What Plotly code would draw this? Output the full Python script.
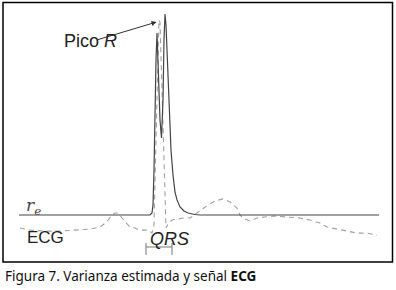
import plotly.graph_objects as go

# Time axis (samples) and amplitudes (normalised to the r_e peak)
re_t = [0, 131, 133, 134, 135, 136, 137, 138, 139, 140, 141, 142.5, 143.5, 144, 145, 146,
        147, 148, 149, 150, 151, 152, 154, 156, 158, 161, 165, 169, 176, 181, 360]
re_a = [0, 0, 0.010, 0.050, 0.224, 0.572, 0.771, 0.905, 0.746, 0.572, 0.473, 0.383, 0.473,
        0.572, 0.871, 1.0, 0.945, 0.846, 0.697, 0.572, 0.423, 0.323, 0.199, 0.114, 0.075,
        0.040, 0.020, 0.010, 0.0025, 0, 0]

ecg_t = [1, 11, 26, 41, 56, 71, 81, 85, 89, 93, 96, 99, 103, 107, 111, 116, 121, 128, 131,
         133, 135, 137, 139, 140, 141, 143, 145, 146, 147, 149, 153, 159, 165, 171, 179, 189,
         196, 204, 211, 218, 221, 224, 231, 238, 246, 256, 268, 281, 291, 301, 308, 318, 328,
         338, 348, 358]
ecg_a = [-0.065, -0.075, -0.080, -0.080, -0.075, -0.070, -0.060, -0.045, -0.025, 0, 0.010,
         0.010, -0.015, -0.040, -0.060, -0.065, -0.075, -0.075, -0.080, -0.090, -0.050, 0.373,
         0.821, 0.970, 0.960, 0.622, 0.224, 0, -0.065, -0.045, -0.025, -0.020, -0.015, -0.015,
         0.015, 0.050, 0.070, 0.080, 0.065, 0.035, 0, -0.015, -0.030, -0.015, -0.010, -0.005,
         -0.010, -0.015, -0.025, -0.040, -0.060, -0.070, -0.080, -0.090, -0.090, -0.100]

qrs_on, qrs_off = 127, 153
caption = "Figura 7. Varianza estimada y señal <b>ECG</b>"

W, H = 396, 290
X_RANGE = [-19, 377]
Y_RANGE = [-0.3731, 1.0697]


def px(x):
    return x / W


def py(y):
    return 1 - y / H


fig = go.Figure()
fig.add_trace(go.Scatter(x=ecg_t, y=ecg_a, mode="lines",
                         line=dict(color="#a0a0a0", width=1.1, dash="5px,4px"),
                         hoverinfo="skip"))
fig.add_trace(go.Scatter(x=re_t, y=re_a, mode="lines",
                         line=dict(color="#444444", width=1.2),
                         hoverinfo="skip"))

# frame
fig.add_shape(type="rect", xref="paper", yref="paper",
              x0=px(3), x1=px(392.5), y0=py(262), y1=py(2.5),
              line=dict(color="black", width=1.5))

# QRS bracket
yb = -0.159
fig.add_shape(type="line", xref="x", yref="y", x0=qrs_on, x1=qrs_off, y0=yb, y1=yb,
              line=dict(color="#777", width=1))
for xq in (qrs_on, qrs_off):
    fig.add_shape(type="line", xref="x", yref="y", x0=xq, x1=xq, y0=yb + 0.02, y1=yb - 0.04,
                  line=dict(color="#777", width=1))

peak_i = ecg_a.index(max(ecg_a))
fig.add_annotation(x=ecg_t[peak_i] - 2.5, y=ecg_a[peak_i] - 0.01, xref="x", yref="y",
                   text="", showarrow=True, ax=-60, ay=18,
                   arrowhead=2, arrowsize=1, arrowwidth=1, arrowcolor="#333")

sans = "Liberation Sans, Arial, sans-serif"
fig.add_annotation(x=px(62), y=py(41), xref="paper", yref="paper", text="Pico <i>R</i>",
                   showarrow=False, xanchor="left", yanchor="middle",
                   font=dict(family=sans, size=18, color="#222"))
fig.add_annotation(x=px(25), y=py(237), xref="paper", yref="paper", text="ECG",
                   showarrow=False, xanchor="left", yanchor="middle",
                   font=dict(family=sans, size=17, color="#222"))
fig.add_annotation(x=px(148), y=py(239), xref="paper", yref="paper", text="<i>QRS</i>",
                   showarrow=False, xanchor="left", yanchor="middle",
                   font=dict(family=sans, size=18, color="#222"))
fig.add_annotation(x=px(24), y=py(206), xref="paper", yref="paper",
                   text="<i>r</i><sub><i>e</i></sub>",
                   showarrow=False, xanchor="left", yanchor="middle",
                   font=dict(family="DejaVu Serif, serif", size=17, color="#444"))
fig.add_annotation(x=px(3), y=py(276), xref="paper", yref="paper", text=caption,
                   showarrow=False, xanchor="left", yanchor="middle",
                   font=dict(family="Noto Sans, sans-serif", size=13.5, color="#111"))

fig.update_layout(width=W, height=H, margin=dict(l=0, r=0, t=0, b=0),
                  paper_bgcolor="white", plot_bgcolor="white", showlegend=False,
                  xaxis=dict(range=X_RANGE, visible=False, fixedrange=True),
                  yaxis=dict(range=Y_RANGE, visible=False, fixedrange=True))

fig.write_html("out.html", config={"displayModeBar": False},
               post_script="document.body.style.margin='0';document.body.style.padding='0';")
